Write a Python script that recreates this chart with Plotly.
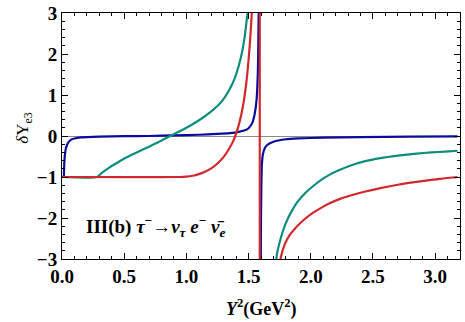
import plotly.graph_objects as go

# Branches (x in GeV^2, y = delta Upsilon_e3)
blue_left_x = [0.015, 0.018, 0.022, 0.03, 0.04, 0.05, 0.065, 0.08, 0.1, 0.15, 0.2, 0.3,
               0.5, 0.7, 0.9, 1.1, 1.25, 1.35, 1.42, 1.47, 1.5, 1.53, 1.55, 1.565, 1.575, 1.582]
blue_left_y = [-1.0, -0.7, -0.5, -0.32, -0.22, -0.16, -0.11, -0.08, -0.06, -0.035, -0.025, -0.015,
               -0.005, 0.0, 0.015, 0.03, 0.05, 0.07, 0.1, 0.14, 0.19, 0.32, 0.55, 0.9, 1.6, 3.2]
blue_right_x = [1.598, 1.6, 1.603, 1.607, 1.615, 1.63, 1.65, 1.7, 1.8, 1.9, 2.1, 2.4, 2.8, 3.18]
blue_right_y = [-3.2, -2.0, -1.2, -0.7, -0.45, -0.3, -0.22, -0.14, -0.08, -0.06, -0.04, -0.025,
                -0.015, -0.01]

teal_left_x = [0.0, 0.28, 0.32, 0.38, 0.45, 0.52, 0.6, 0.7, 0.8, 0.87, 0.95, 1.03, 1.12, 1.2,
               1.26, 1.31, 1.35, 1.39, 1.42, 1.45, 1.47, 1.49, 1.5]
teal_left_y = [-1.0, -1.0, -0.9, -0.77, -0.64, -0.52, -0.4, -0.26, -0.11, 0.0, 0.12, 0.25, 0.42,
               0.6, 0.76, 0.95, 1.15, 1.42, 1.7, 2.08, 2.45, 2.95, 3.2]
teal_right_x = [1.715, 1.73, 1.76, 1.79, 1.82, 1.855, 1.89, 1.96, 2.02, 2.09, 2.16, 2.23, 2.31,
                2.43, 2.56, 2.7, 2.85, 2.97, 3.08, 3.18]
teal_right_y = [-3.2, -2.85, -2.48, -2.2, -1.99, -1.79, -1.62, -1.38, -1.22, -1.06, -0.93, -0.83,
                -0.73, -0.62, -0.54, -0.48, -0.43, -0.4, -0.38, -0.36]

red_left_x = [0.0, 0.95, 1.0, 1.05, 1.1, 1.15, 1.2, 1.25, 1.3, 1.34, 1.38, 1.41, 1.44, 1.46,
              1.48, 1.5, 1.515, 1.53]
red_left_y = [-1.0, -1.0, -0.99, -0.97, -0.93, -0.87, -0.79, -0.67, -0.51, -0.33, -0.1, 0.15,
              0.5, 0.82, 1.25, 1.85, 2.45, 3.2]
red_jump_x = [1.59, 1.59]
red_jump_y = [3.2, -3.2]
red_right_x = [1.745, 1.76, 1.79, 1.83, 1.89, 1.95, 2.02, 2.09, 2.16, 2.23, 2.3, 2.43, 2.56,
               2.7, 2.85, 2.97, 3.08, 3.18]
red_right_y = [-3.2, -2.95, -2.65, -2.42, -2.2, -2.03, -1.87, -1.74, -1.63, -1.54, -1.47, -1.36,
               -1.27, -1.19, -1.12, -1.07, -1.03, -1.0]

x_ticks = [0.0, 0.5, 1.0, 1.5, 2.0, 2.5, 3.0]
x_tick_labels = ["0.0", "0.5", "1.0", "1.5", "2.0", "2.5", "3.0"]
y_ticks = [-3, -2, -1, 0, 1, 2, 3]
y_tick_labels = ["−3", "−2", "−1", "0", "1", "2", "3"]

BLUE = "#0b0b9c"
TEAL = "#0e8c7e"
RED = "#d0282d"
FONT = "Liberation Serif"

fig = go.Figure()


def _branch(x, y, color, shape="spline"):
    fig.add_trace(go.Scatter(
        x=x, y=y, mode="lines", showlegend=False, hoverinfo="skip",
        line=dict(color=color, width=2.2, shape=shape, smoothing=0.6),
    ))


_branch(blue_left_x, blue_left_y, BLUE)
_branch(blue_right_x, blue_right_y, BLUE)
_branch(teal_left_x, teal_left_y, TEAL)
_branch(teal_right_x, teal_right_y, TEAL)
_branch(red_left_x, red_left_y, RED)
_branch(red_jump_x, red_jump_y, RED, shape="linear")
_branch(red_right_x, red_right_y, RED)


def _axis(rng, vals, labels, minor_step, **kw):
    return dict(
        range=rng, tickmode="array", tickvals=vals, automargin=False,
        ticktext=[f"<b>{t}</b>" for t in labels],
        showline=True, linecolor="black", linewidth=1, mirror="ticks",
        ticks="inside", ticklen=6, tickwidth=1, tickcolor="black",
        showgrid=False,
        tickfont=dict(family=FONT, size=19, color="black"),
        minor=dict(ticks="inside", ticklen=3, tickmode="linear", tick0=0,
                   dtick=minor_step, tickcolor="black", showgrid=False),
        **kw,
    )


fig.add_annotation(
    xref="paper", yref="paper", x=0.5, y=-0.2, yanchor="middle", showarrow=False,
    text="<b><i>Y</i><sup>2</sup>(GeV<sup>2</sup>)</b>",
    font=dict(family=FONT, size=18, color="black"),
)
fig.add_annotation(
    xref="paper", yref="paper", x=-0.128, y=0.53, showarrow=False, textangle=-90,
    text="<i>δ</i>Υ<sub>e3</sub>",
    font=dict(family=FONT, size=17, color="black"),
)
fig.add_annotation(
    xref="paper", yref="paper", x=0.055, y=0.07, xanchor="left", showarrow=False,
    text="<b>III(b) <i>τ</i><sup>−</sup>→<i>ν</i><sub><i>τ</i></sub> <i>e</i><sup>−</sup> "
         "<i>ν̄</i><sub><i>e</i></sub></b>",
    font=dict(family=FONT, size=19, color="black"),
)

fig.update_layout(
    width=465, height=322,
    margin=dict(l=62, r=5, t=13, b=63),
    paper_bgcolor="white", plot_bgcolor="white",
    font=dict(family=FONT, size=17, color="black"),
    xaxis=_axis([0, 3.2], x_ticks, x_tick_labels, 0.1, zeroline=False),
    yaxis=_axis([-3, 3], y_ticks, y_tick_labels, 0.2, zeroline=True,
                zerolinecolor="#8a8a8a", zerolinewidth=1),
)

# drop the page's default body margin so the figure sits at the window corner
fig.write_html("out.html", config={"displayModeBar": False},
               post_script="document.body.style.margin='0';")
